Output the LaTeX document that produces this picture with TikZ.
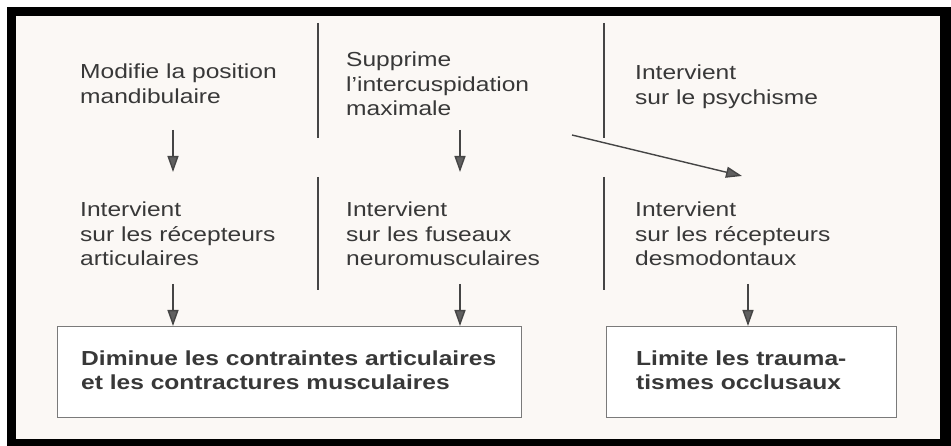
\documentclass[tikz,border=0pt]{standalone}
\usepackage{fontspec}
\setmainfont{Liberation Sans}[FakeStretch=1.21]
\usetikzlibrary{arrows.meta}
\definecolor{txt}{HTML}{383838}
\definecolor{linec}{HTML}{454545}
\definecolor{headc}{HTML}{606060}
\definecolor{boxc}{HTML}{7A7A7A}
\definecolor{bg}{HTML}{FBF8F5}
\begin{document}
\begin{tikzpicture}[x=1pt,y=-1pt,
  lbl/.style={anchor=base west, inner sep=0pt, align=left, text=txt,
    font=\fontsize{20.3}{24.5}\selectfont},
  blbl/.style={lbl, font=\fontsize{20.3}{24.5}\selectfont\bfseries},
  sepline/.style={draw=linec, line width=1.4pt},
  arr/.style={draw=linec, line width=1.4pt,
    -{Triangle[length=16pt,width=11pt,fill=headc]}},
  boxs/.style={draw=boxc, line width=1.2pt, fill=white, anchor=north west,
    inner sep=0pt, minimum height=91pt}]
\useasboundingbox (0,0) rectangle (951,446);
\fill[white] (0,0) rectangle (951,446);
\fill[black] (7,7) rectangle (951,446);
\fill[bg] (16,16) rectangle (940,439);

% separators
\coordinate (s1a) at (318,23);  \coordinate (s1b) at (318,138);
\coordinate (s1c) at (318,177); \coordinate (s1d) at (318,290);
\coordinate (s2a) at (604,23);  \coordinate (s2b) at (604,138);
\coordinate (s2c) at (604,177); \coordinate (s2d) at (604,290);
\draw[sepline] (s1a) -- (s1b);
\draw[sepline] (s1c) -- (s1d);
\draw[sepline] (s2a) -- (s2b);
\draw[sepline] (s2c) -- (s2d);

% texts (anchor = baseline of last line)
\node[lbl] (t1) at (80,103.5) {Modifie la position\\mandibulaire};
\node[lbl] (t2) at (346,116) {Supprime\\l'intercuspidation\\maximale};
\node[lbl] (t3) at (635,104.5) {Intervient\\sur le psychisme};
\node[lbl] (t4) at (80,266) {Intervient\\sur les récepteurs\\articulaires};
\node[lbl] (t5) at (346,266) {Intervient\\sur les fuseaux\\neuromusculaires};
\node[lbl] (t6) at (635,266) {Intervient\\sur les récepteurs\\desmodontaux};

% boxes
\node[boxs, minimum width=464pt] (b1) at (57,326) {};
\node[boxs, minimum width=290pt] (b2) at (606,326) {};
\node[blbl] (t7) at (81,389.5) {Diminue les contraintes articulaires\\et les contractures musculaires};
\node[blbl] (t8) at (636,389.5) {Limite les trauma-\\tismes occlusaux};

% arrows
\coordinate (a1) at (173,130); \coordinate (a1e) at (173,172);
\coordinate (a2) at (460,130); \coordinate (a2e) at (460,172);
\coordinate (a3) at (572,135); \coordinate (a3e) at (742,176);
\coordinate (a4) at (173,284);
\coordinate (a5) at (460,284);
\coordinate (a6) at (748,284);
\draw[arr] (a1) -- (a1e);
\draw[arr] (a2) -- (a2e);
\draw[arr] (a3) -- (a3e);
\draw[arr] (a4) -- (a4 |- b1.north);
\draw[arr] (a5) -- (a5 |- b1.north);
\draw[arr] (a6) -- (a6 |- b2.north);
\end{tikzpicture}
\end{document}
